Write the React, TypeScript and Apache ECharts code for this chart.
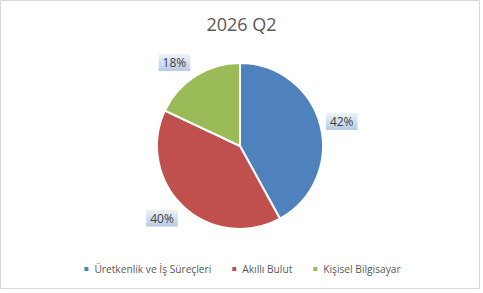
import React, { useEffect, useRef } from "react";
import * as echarts from "echarts";

const titleText = "2026 Q2";
const categories = ["Üretkenlik ve İş Süreçleri", "Akıllı Bulut", "Kişisel Bilgisayar"];
const values = [42, 40, 18];
const colors = ["#4F81BD", "#C0504D", "#9BBB59"];

export default function App() {
  const ref = useRef<HTMLDivElement>(null);
  useEffect(() => {
    document.body.style.margin = "0";
    const chart = echarts.init(ref.current!, null, { renderer: "svg" });
    const total = values.reduce((a, b) => a + b, 0);
    const midAngles: number[] = [];
    let cum = 0;
    values.forEach((v) => {
      midAngles.push(((cum + v / 2) / total) * Math.PI * 2);
      cum += v;
    });
    chart.setOption({
      animation: false,
      backgroundColor: "#ffffff",
      title: {
        text: titleText,
        left: "center",
        top: 10,
        textStyle: { fontFamily: "Open Sans", fontSize: 18, fontWeight: "normal", color: "#595959" },
      },
      legend: {
        bottom: 14,
        left: "center",
        icon: "rect",
        itemWidth: 6,
        itemHeight: 6,
        itemGap: 19,
        textStyle: { fontFamily: "Open Sans", fontSize: 10.2, color: "#595959" },
        data: categories,
      },
      graphic: [
        {
          type: "rect",
          shape: { x: 0.5, y: 0.5, width: 479, height: 288 },
          style: { fill: "none", stroke: "#d9d9d9", lineWidth: 1 },
          silent: true,
        },
      ],
      series: [
        {
          type: "pie",
          center: [240, 146],
          radius: 83,
          startAngle: 90,
          clockwise: true,
          itemStyle: { borderColor: "#ffffff", borderWidth: 2 },
          label: {
            show: true,
            position: "outside",
            formatter: "{d}%",
            fontFamily: "Open Sans",
            fontSize: 12,
            color: "#404040",
            padding: [3, 4, 2, 4],
            backgroundColor: {
              type: "linear",
              x: 0,
              y: 0,
              x2: 0,
              y2: 1,
              colorStops: [
                { offset: 0, color: "#eef3fa" },
                { offset: 1, color: "#b7cbe4" },
              ],
            },
          },
          labelLine: { show: false, length: 0.5, length2: 0 },
          labelLayout: (params: any) => {
            const a = midAngles[params.dataIndex];
            const h = params.labelRect ? params.labelRect.height : 17;
            return { dy: -Math.cos(a) * h * 0.9 };
          },
          data: categories.map((name, i) => ({
            name,
            value: values[i],
            itemStyle: { color: colors[i] },
          })),
        },
      ],
    });
    return () => chart.dispose();
  }, []);
  return <div ref={ref} style={{ width: 483, height: 293 }} />;
}
